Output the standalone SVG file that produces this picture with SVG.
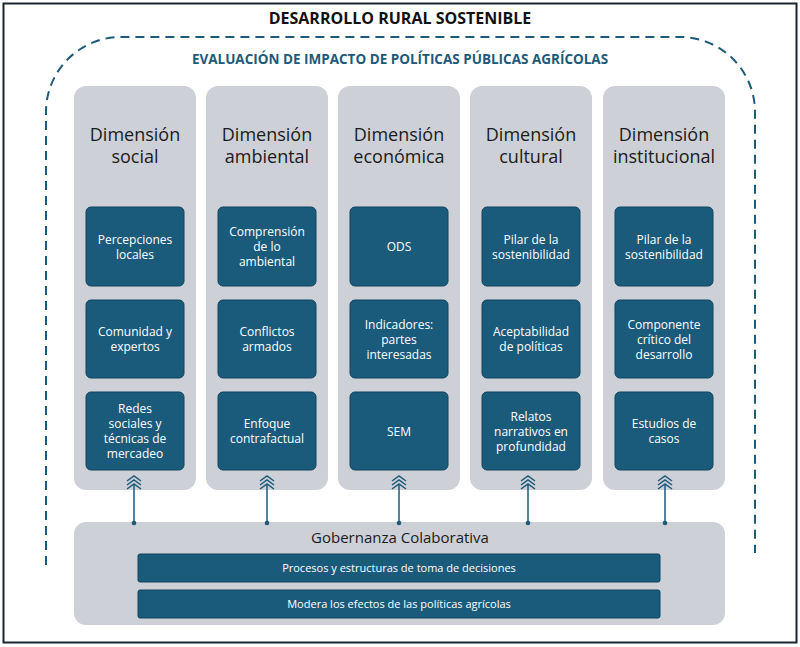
<svg xmlns="http://www.w3.org/2000/svg" width="800" height="647" viewBox="0 0 800 647">
<style>
text{font-family:"Open Sans","Liberation Sans",sans-serif;text-anchor:middle}
.col{fill:#cdd0d6}
.box{fill:#1a5b7c;stroke:#0f4560;stroke-width:1}
.bt{fill:#fff;font-size:12px}
.ht{fill:#1b1b1b;font-size:18px}
.ar{stroke:#1d5a7a;stroke-width:1.5;fill:none}
</style>
<defs>
<g id="chev" class="ar"><path d="M-7,-8 L0,-13 L7,-8 M-7,-4 L0,-9 L7,-4 M-7,0 L0,-5 L7,0"/><line x1="0" y1="-4" x2="0" y2="34"/><circle cx="0" cy="34" r="2.3" fill="#1d5a7a" stroke="none"/></g>
</defs>
<rect x="0" y="0" width="800" height="647" fill="#fff"/>
<rect x="3.5" y="3.5" width="793" height="639" fill="none" stroke="#1b2530" stroke-width="2"/>
<text x="400" y="24" font-size="16" font-weight="bold" fill="#111">DESARROLLO RURAL SOSTENIBLE</text>
<path d="M46,565 V112 A75,75 0 0 1 121,37 H680 A75,75 0 0 1 755,112 V553" fill="none" stroke="#1d5a7a" stroke-width="2" stroke-dasharray="9,6"/>
<text x="400" y="64" font-size="13.5" font-weight="bold" fill="#1d5a7a">EVALUACIÓN DE IMPACTO DE POLÍTICAS PÚBLICAS AGRÍCOLAS</text>
<g id="c1"><rect class="col" x="74" y="86" width="122" height="404" rx="12"/>
<text class="ht" x="135" y="141">Dimensión</text><text class="ht" x="135" y="163">social</text>
<rect class="box" x="86" y="207" width="98" height="79" rx="5"/><text class="bt" x="135" y="244">Percepciones</text><text class="bt" x="135" y="259">locales</text>
<rect class="box" x="86" y="300" width="98" height="78" rx="5"/><text class="bt" x="135" y="336">Comunidad y</text><text class="bt" x="135" y="351">expertos</text>
<rect class="box" x="86" y="392" width="98" height="78" rx="5"/><text class="bt" x="135" y="413">Redes</text><text class="bt" x="135" y="428">sociales y</text><text class="bt" x="135" y="443">técnicas de</text><text class="bt" x="135" y="458">mercadeo</text></g>
<g id="c2"><rect class="col" x="206" y="86" width="122" height="404" rx="12"/>
<text class="ht" x="267" y="141">Dimensión</text><text class="ht" x="267" y="163">ambiental</text>
<rect class="box" x="218" y="207" width="98" height="79" rx="5"/><text class="bt" x="267" y="236">Comprensión</text><text class="bt" x="267" y="251">de lo</text><text class="bt" x="267" y="266">ambiental</text>
<rect class="box" x="218" y="300" width="98" height="78" rx="5"/><text class="bt" x="267" y="336">Conflictos</text><text class="bt" x="267" y="351">armados</text>
<rect class="box" x="218" y="392" width="98" height="78" rx="5"/><text class="bt" x="267" y="428">Enfoque</text><text class="bt" x="267" y="443">contrafactual</text></g>
<g id="c3"><rect class="col" x="338" y="86" width="122" height="404" rx="12"/>
<text class="ht" x="399" y="141">Dimensión</text><text class="ht" x="399" y="163">económica</text>
<rect class="box" x="350" y="207" width="98" height="79" rx="5"/><text class="bt" x="399" y="251">ODS</text>
<rect class="box" x="350" y="300" width="98" height="78" rx="5"/><text class="bt" x="399" y="329">Indicadores:</text><text class="bt" x="399" y="344">partes</text><text class="bt" x="399" y="359">interesadas</text>
<rect class="box" x="350" y="392" width="98" height="78" rx="5"/><text class="bt" x="399" y="436">SEM</text></g>
<g id="c4"><rect class="col" x="470" y="86" width="122" height="404" rx="12"/>
<text class="ht" x="531" y="141">Dimensión</text><text class="ht" x="531" y="163">cultural</text>
<rect class="box" x="482" y="207" width="98" height="79" rx="5"/><text class="bt" x="531" y="244">Pilar de la</text><text class="bt" x="531" y="259">sostenibilidad</text>
<rect class="box" x="482" y="300" width="98" height="78" rx="5"/><text class="bt" x="531" y="336">Aceptabilidad</text><text class="bt" x="531" y="351">de políticas</text>
<rect class="box" x="482" y="392" width="98" height="78" rx="5"/><text class="bt" x="531" y="421">Relatos</text><text class="bt" x="531" y="436">narrativos en</text><text class="bt" x="531" y="451">profundidad</text></g>
<g id="c5"><rect class="col" x="603" y="86" width="122" height="404" rx="12"/>
<text class="ht" x="664" y="141">Dimensión</text><text class="ht" x="664" y="163">institucional</text>
<rect class="box" x="615" y="207" width="98" height="79" rx="5"/><text class="bt" x="664" y="244">Pilar de la</text><text class="bt" x="664" y="259">sostenibilidad</text>
<rect class="box" x="615" y="300" width="98" height="78" rx="5"/><text class="bt" x="664" y="329">Componente</text><text class="bt" x="664" y="344">crítico del</text><text class="bt" x="664" y="359">desarrollo</text>
<rect class="box" x="615" y="392" width="98" height="78" rx="5"/><text class="bt" x="664" y="428">Estudios de</text><text class="bt" x="664" y="443">casos</text></g>
<g id="gov"><rect class="col" x="74" y="522" width="651" height="103" rx="12"/>
<text x="400" y="543" font-size="15" fill="#1b1b1b">Gobernanza Colaborativa</text>
<rect class="box" x="138" y="554" width="522" height="28" rx="2"/><text x="399" y="572" font-size="11" fill="#fff">Procesos y estructuras de toma de decisiones</text>
<rect class="box" x="138" y="590" width="522" height="28" rx="2"/><text x="399" y="608" font-size="11" fill="#fff">Modera los efectos de las políticas agrícolas</text></g>
<g id="connectors">
<use href="#chev" x="134" y="489"/><use href="#chev" x="267" y="489"/><use href="#chev" x="399" y="489"/><use href="#chev" x="528" y="489"/><use href="#chev" x="665" y="489"/>
</g>
</svg>
